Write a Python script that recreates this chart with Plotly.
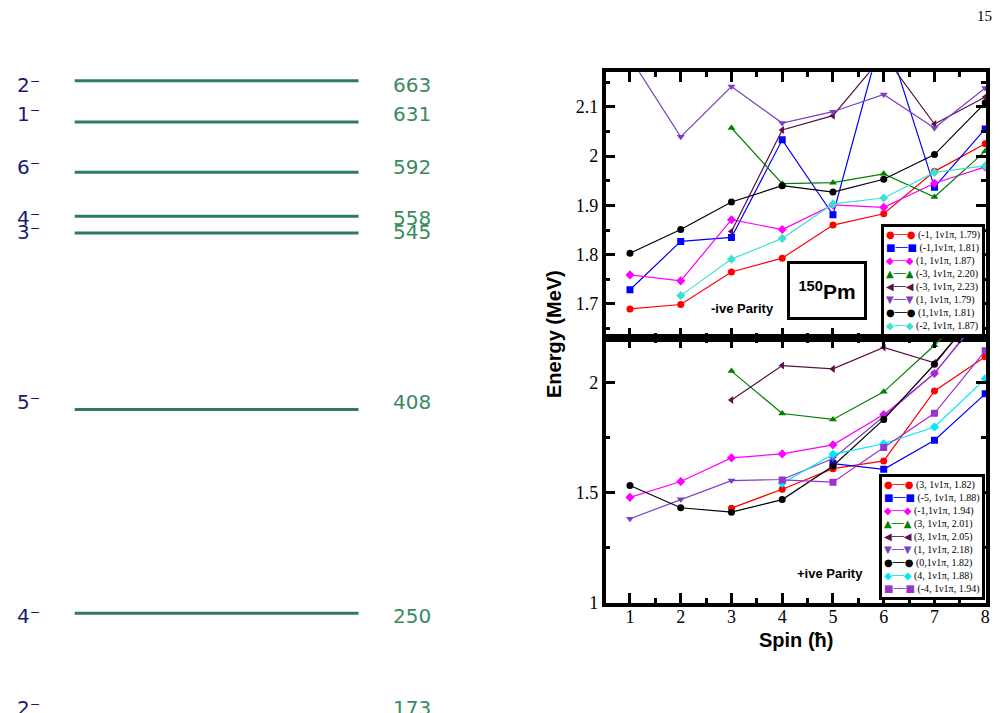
import plotly.graph_objects as go

# ---------------- data ----------------
level_energies = [663, 631, 592, 558, 545, 408, 250, 173]
level_spins = ["2⁻", "1⁻", "6⁻", "4⁻", "3⁻", "5⁻", "4⁻", "2⁻"]

spins = [1, 2, 3, 4, 5, 6, 7, 8]

neg_labels = ["(-1, 1ν1π, 1.79)", "(-1,1ν1π, 1.81)", "(1, 1ν1π, 1.87)", "(-3, 1ν1π, 2.20)",
              "(-3, 1ν1π, 2.23)", "(1, 1ν1π, 1.79)", "(1,1ν1π, 1.81)", "(-2, 1ν1π, 1.87)"]
neg_red = [1.690, 1.699, 1.765, 1.793, 1.860, 1.883, 1.969, 2.025]
neg_blue = [1.729, 1.827, 1.835, 2.033, 1.881, 2.260, 1.937, 2.055]
neg_magenta = [1.759, 1.747, 1.871, 1.851, 1.901, 1.896, 1.945, 1.978]
neg_green = [None, None, 2.057, 1.944, 1.946, 1.964, 1.917, 2.010]
neg_maroon = [None, None, 1.847, 2.053, 2.082, 2.205, 2.065, 2.120]
neg_purple = [2.200, 2.039, 2.141, 2.067, 2.090, 2.125, 2.057, 2.138]
neg_black = [1.803, 1.851, 1.907, 1.940, 1.927, 1.953, 2.003, 2.108]
neg_cyan = [None, 1.717, 1.791, 1.833, 1.903, 1.915, 1.967, 1.980]

pos_labels = ["(3, 1ν1π, 1.82)", "(-5, 1ν1π, 1.88)", "(-1,1ν1π, 1.94)", "(3, 1ν1π, 2.01)",
              "(3, 1ν1π, 2.05)", "(1, 1ν1π, 2.18)", "(0,1ν1π, 1.82)", "(4, 1ν1π, 1.88)",
              "(-4, 1ν1π, 1.94)"]
pos_red = [None, None, 1.430, 1.516, 1.609, 1.644, 1.961, 2.116]
pos_blue = [None, None, None, None, 1.632, 1.606, 1.738, 1.948]
pos_magenta = [1.479, 1.551, 1.658, 1.676, 1.717, 1.854, 2.040, 2.330]
pos_green = [None, None, 2.051, 1.859, 1.832, 1.957, 2.168, 2.400]
pos_maroon = [None, None, 1.920, 2.076, 2.061, 2.158, 2.089, 2.350]
pos_purple = [1.382, 1.470, 1.555, 1.560, 1.655, 1.845, 2.042, 2.320]
pos_black = [1.533, 1.432, 1.412, 1.469, 1.621, 1.832, 2.082, 2.370]
pos_cyan = [None, None, None, 1.543, 1.674, 1.722, 1.798, 2.016]
pos_violet = [None, None, None, 1.558, 1.548, 1.705, 1.860, 2.143]

# ---------------- styles ----------------
neg_series = [neg_red, neg_blue, neg_magenta, neg_green, neg_maroon, neg_purple, neg_black, neg_cyan]
neg_colors = ["#ff0000", "#0000ff", "#ff00ff", "#008000", "#5b1146", "#7b3fc4", "#000000", "#40e0d0"]
neg_symbols = ["circle", "square", "diamond", "triangle-up", "triangle-left", "triangle-down", "circle", "diamond"]

pos_series = [pos_red, pos_blue, pos_magenta, pos_green, pos_maroon, pos_purple, pos_black, pos_cyan, pos_violet]
pos_colors = ["#ff0000", "#0000ff", "#ff00ff", "#008000", "#5b1146", "#7b3fc4", "#000000", "#00e8f8", "#9933cc"]
pos_symbols = ["circle", "square", "diamond", "triangle-up", "triangle-left", "triangle-down", "circle", "diamond", "square"]

sym_char = {"circle": "●", "square": "■", "diamond": "◆", "triangle-up": "▲",
            "triangle-left": "◀", "triangle-down": "▼"}

label_shift = [-4, 8, 5, -2, 1, 8, -3, 5]   # px, label offset vs level line

LEVEL_GREEN = "#2e7d58"
LABEL_GREEN = "#3a8a62"
LABEL_BLUE = "#1c1c6e"
Y3_RANGE = [180.4, 725.7]
W, H = 1005, 713

fig = go.Figure()

# level scheme lines
lx, ly = [], []
for e in level_energies:
    lx += [0, 1, None]
    ly += [e, e, None]
fig.add_trace(go.Scatter(x=lx, y=ly, mode="lines", xaxis="x3", yaxis="y3",
                         line=dict(color=LEVEL_GREEN, width=3), showlegend=False,
                         hoverinfo="skip"))

annotations = []
for e, s, sh in zip(level_energies, level_spins, label_shift):
    if Y3_RANGE[0] <= e <= Y3_RANGE[1]:
        yref, yv = "y3", e
    else:
        yref, yv = "paper", (e - Y3_RANGE[0]) / (Y3_RANGE[1] - Y3_RANGE[0])
    annotations.append(dict(x=-0.2105, y=yv, xref="x3", yref=yref, text=s,
                            xanchor="left", yanchor="middle", yshift=sh, showarrow=False,
                            font=dict(family="DejaVu Sans", size=20, color=LABEL_BLUE)))
    annotations.append(dict(x=1.1158, y=yv, xref="x3", yref=yref, text=str(e),
                            xanchor="left", yanchor="middle", yshift=sh, showarrow=False,
                            font=dict(family="DejaVu Sans", size=20, color=LABEL_GREEN)))

# right panels
for ys, col, sym in zip(neg_series, neg_colors, neg_symbols):
    fig.add_trace(go.Scatter(x=spins, y=ys, mode="lines+markers", xaxis="x", yaxis="y",
                             line=dict(color=col, width=1.2),
                             marker=dict(color=col, symbol=sym, size=7),
                             showlegend=False))
for ys, col, sym in zip(pos_series, pos_colors, pos_symbols):
    fig.add_trace(go.Scatter(x=spins, y=ys, mode="lines+markers", xaxis="x2", yaxis="y2",
                             line=dict(color=col, width=1.2),
                             marker=dict(color=col, symbol=sym, size=7),
                             showlegend=False))


def legend_text(labels, colors, symbols):
    rows = []
    for lab, col, sym in zip(labels, colors, symbols):
        c = sym_char[sym]
        rows.append('<span style="color:%s;font-family:DejaVu Sans">%s──%s</span> %s'
                    % (col, c, c, lab))
    return "<br>".join(rows)


annotations.append(dict(x=1, y=0, xref="x domain", yref="y domain", xanchor="right",
                        yanchor="bottom", xshift=-1, yshift=1, showarrow=False, align="left",
                        text=legend_text(neg_labels, neg_colors, neg_symbols),
                        font=dict(family="Liberation Serif", size=10, color="black"),
                        bordercolor="black", borderwidth=3, borderpad=2, bgcolor="white"))
annotations.append(dict(x=1, y=0, xref="x2 domain", yref="y2 domain", xanchor="right",
                        yanchor="bottom", xshift=-1, yshift=3, showarrow=False, align="left",
                        text=legend_text(pos_labels, pos_colors, pos_symbols),
                        font=dict(family="Liberation Serif", size=10, color="black"),
                        bordercolor="black", borderwidth=3, borderpad=2, bgcolor="white"))

annotations.append(dict(x=4.876, y=1.7276, xref="x", yref="y", text="<sup>150</sup>Pm",
                        showarrow=False, width=72, height=51, borderpad=1,
                        bordercolor="black", borderwidth=3, bgcolor="white",
                        font=dict(family="Liberation Sans", size=21, color="black", weight="bold")))
annotations.append(dict(x=3.21, y=1.69, xref="x", yref="y", text="-ive Parity", showarrow=False,
                        font=dict(family="Liberation Sans", size=13, color="black", weight="bold")))
annotations.append(dict(x=4.94, y=1.134, xref="x2", yref="y2", text="+ive Parity", showarrow=False,
                        font=dict(family="Liberation Sans", size=13, color="black", weight="bold")))
annotations.append(dict(x=556 / W, y=1 - 339 / H, xref="paper", yref="paper", text="Energy (MeV)",
                        textangle=-90, showarrow=False, xanchor="center", yanchor="middle",
                        font=dict(family="Liberation Sans", size=20, color="black", weight="bold")))
annotations.append(dict(x=0.5, y=1 - 649 / H, xref="x2 domain", yref="paper", text="Spin (ħ)",
                        showarrow=False, xanchor="center", yanchor="middle",
                        font=dict(family="Liberation Sans", size=20, color="black", weight="bold")))
annotations.append(dict(x=988 / W, y=1 - 16 / H, xref="paper", yref="paper", text="15",
                        showarrow=False, xanchor="center", yanchor="middle",
                        font=dict(family="Liberation Serif", size=15, color="black")))

axis_common = dict(showline=True, linecolor="black", linewidth=3.5, mirror="ticks",
                   ticks="inside", ticklen=10, tickwidth=3, tickcolor="black",
                   showgrid=False, zeroline=False,
                   tickfont=dict(family="Liberation Serif", size=18, color="black"))
minor_common = dict(ticklen=5, tickwidth=2.5, ticks="inside", tickcolor="black")

XDOM = [0.605, 0.985]
XR = [0.52, 8.015]

fig.update_layout(
    width=W, height=H, margin=dict(l=0, r=0, t=0, b=0),
    paper_bgcolor="white", plot_bgcolor="white", showlegend=False,
    hovermode=False,
    xaxis=dict(domain=XDOM, anchor="y", range=XR, dtick=1, tick0=0, showticklabels=False,
               minor=dict(dtick=0.5, **minor_common), **axis_common),
    yaxis=dict(domain=[0.5189, 0.8972], anchor="x", range=[1.6306, 2.17], dtick=0.1, tick0=0,
               minor=dict(dtick=0.05, **minor_common), **axis_common),
    xaxis2=dict(domain=XDOM, anchor="y2", range=XR, dtick=1, tick0=0, ticklabelstandoff=-5,
                minor=dict(dtick=0.5, **minor_common), **axis_common),
    yaxis2=dict(domain=[0.1421, 0.5189], anchor="x2", range=[1.0, 2.2], dtick=0.5, tick0=0,
                minor=dict(dtick=0.25, **minor_common), **axis_common),
    xaxis3=dict(domain=[0, 0.4577], anchor="y3", range=[-0.2632, 1.3509], visible=False),
    yaxis3=dict(domain=[0, 1], anchor="x3", range=Y3_RANGE, visible=False),
    annotations=annotations,
)

fig.write_html("out.html", config={"displayModeBar": False})
